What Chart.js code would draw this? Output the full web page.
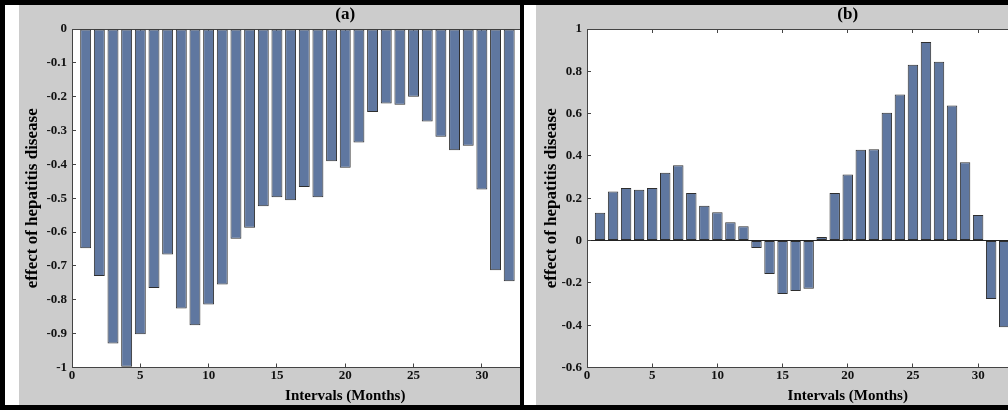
<!DOCTYPE html>
<html><head><meta charset="utf-8">
<script src="https://cdn.jsdelivr.net/npm/chart.js@4.4.1/dist/chart.umd.min.js"></script>
<style>
html,body{margin:0;padding:0;}
body{width:1008px;height:410px;background:#000;position:relative;overflow:hidden;}
.w{position:absolute;background:#fff;top:5px;height:400px;}
.p{position:absolute;background:#cccccc;top:5px;height:400px;overflow:hidden;}
canvas{position:absolute;left:0;top:0;}
</style></head><body>
<div class="w" style="left:5px;width:14px"></div>
<div class="p" style="left:19px;width:501px"><canvas id="ca" width="612" height="400" style="width:612px;height:400px"></canvas></div>
<div class="w" style="left:524px;width:12px"></div>
<div class="p" style="left:536px;width:472px"><canvas id="cb" width="585" height="400" style="width:585px;height:400px"></canvas></div>
<script>
// ---- data ----
const months = [1,2,3,4,5,6,7,8,9,10,11,12,13,14,15,16,17,18,19,20,21,22,23,24,25,26,27,28,29,30,31,32];
const effectA = [-0.648,-0.730,-0.929,-0.998,-0.902,-0.765,-0.666,-0.826,-0.875,-0.814,-0.755,-0.620,-0.587,-0.524,-0.497,-0.506,-0.467,-0.497,-0.391,-0.410,-0.335,-0.245,-0.220,-0.224,-0.200,-0.273,-0.318,-0.358,-0.345,-0.474,-0.713,-0.745];
const effectB = [0.131,0.232,0.249,0.240,0.249,0.320,0.356,0.225,0.165,0.134,0.087,0.068,-0.035,-0.158,-0.252,-0.238,-0.228,0.017,0.225,0.312,0.429,0.432,0.604,0.690,0.831,0.939,0.845,0.638,0.370,0.121,-0.276,-0.410];
const xRange = [0, 40];
const xStep = 5;
const rangeA = [-1, 0];
const rangeB = [-0.6, 1];
const stepA = 0.1;
const stepB = 0.2;
const titleA = '(a)';
const titleB = '(b)';
const xTitle = 'Intervals (Months)';
const yTitle = 'effect of hepatitis disease';

// ---- styles ----
const serif = "'Liberation Serif','Times New Roman',serif";
const barFill = '#5f77a0';
const barEdge = '#2e2e2e';
const axisColor = '#444444';
const tickFont = {family: serif, weight: 'bold', size: 13, lineHeight: 1};
const xTitleFont = {family: serif, weight: 'bold', size: 15, lineHeight: 1};
const yTitleFont = {family: serif, weight: 'bold', size: 17, lineHeight: 1};

const plotBg = {
  id: 'plotBg',
  beforeDraw(chart) {
    const {ctx, chartArea: a} = chart;
    ctx.save();
    ctx.fillStyle = '#ffffff';
    ctx.fillRect(a.left, a.top, a.right - a.left, a.bottom - a.top);
    ctx.restore();
  }
};

function build(id, title, values, yRange, yStep, yWidth, yTitlePad, zeroLine) {
  const xCommon = {
    type: 'linear', min: xRange[0], max: xRange[1], offset: false,
    border: {display: true, color: axisColor, width: 1}
  };
  return new Chart(document.getElementById(id), {
    type: 'bar',
    data: {
      datasets: [{
        data: months.map((m, i) => ({x: m, y: values[i]})),
        backgroundColor: barFill,
        borderColor: barEdge,
        borderWidth: 1,
        borderSkipped: false,
        barPercentage: 0.8,
        categoryPercentage: 1
      }]
    },
    options: {
      responsive: false, animation: false, devicePixelRatio: 1,
      layout: {padding: {left: 0, right: 10, top: 0, bottom: 0}},
      plugins: {
        legend: {display: false},
        tooltip: {enabled: false},
        title: {
          display: true, text: title, fullSize: false, color: '#000',
          font: {family: serif, weight: 'bold', size: 17, lineHeight: 1},
          padding: {top: 1, bottom: 6}
        }
      },
      scales: {
        x: Object.assign({}, xCommon, {
          position: 'bottom',
          ticks: {stepSize: xStep, autoSkip: false, maxRotation: 0, font: tickFont, color: '#111', padding: 6},
          grid: {offset: false, drawOnChartArea: false, drawTicks: true, tickLength: -4, tickColor: axisColor},
          title: {display: true, text: xTitle, color: '#000', font: xTitleFont, padding: {top: 0, bottom: 1.5}},
          afterFit(s) { s.height = 37.5; }
        }),
        xTop: Object.assign({}, xCommon, {
          position: 'top',
          ticks: {stepSize: xStep, autoSkip: false, display: false},
          grid: {offset: false, drawOnChartArea: false, drawTicks: true, tickLength: -4, tickColor: axisColor},
          afterFit(s) { s.height = 0; }
        }),
        y: {
          type: 'linear', position: 'left', min: yRange[0], max: yRange[1],
          border: {display: true, color: axisColor, width: 1},
          ticks: {stepSize: yStep, font: tickFont, color: '#111', padding: 9,
                  callback: v => String(Math.round(v * 10) / 10)},
          grid: {
            drawOnChartArea: zeroLine, drawTicks: true, tickLength: -4, tickColor: axisColor,
            color: c => (c.tick && Math.abs(c.tick.value) < 1e-9) ? '#222' : 'rgba(0,0,0,0)'
          },
          title: {display: true, text: yTitle, color: '#000', font: yTitleFont, padding: {top: yTitlePad, bottom: 0}},
          afterFit(s) { s.width = yWidth; }
        }
      }
    },
    plugins: [plotBg]
  });
}

build('ca', titleA, effectA, rangeA, stepA, 53, 5, false);
build('cb', titleB, effectB, rangeB, stepB, 51, 7.3, true);
</script>
</body></html>
